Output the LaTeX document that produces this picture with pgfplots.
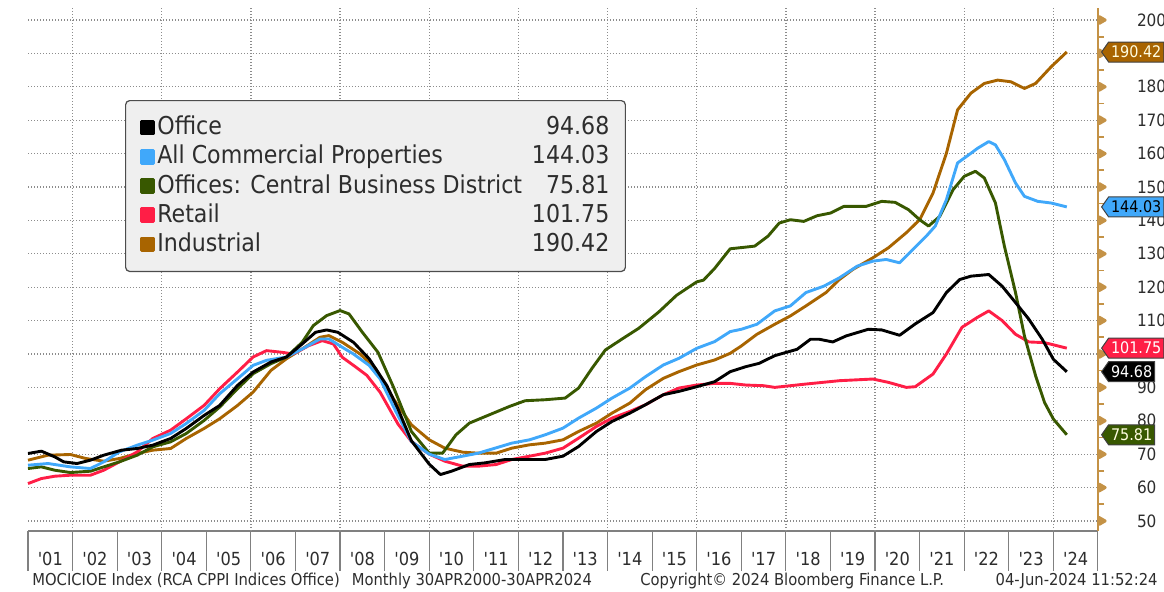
\documentclass[border=0pt]{standalone}
\usepackage{pgfplots}
\pgfplotsset{compat=1.18}
\usepackage{fontspec}
\setmainfont{DejaVu Sans Condensed}
\usetikzlibrary{shapes.symbols}
\definecolor{cOffice}{RGB}{0,0,0}
\definecolor{cAll}{RGB}{64,168,250}
\definecolor{cCBD}{RGB}{56,88,0}
\definecolor{cRetail}{RGB}{255,30,70}
\definecolor{cInd}{RGB}{168,100,0}
\definecolor{axbrown}{RGB}{196,146,70}
\definecolor{gridc}{RGB}{140,140,140}
\definecolor{txt}{RGB}{45,45,45}
\definecolor{legbg}{RGB}{239,239,239}
\newcommand{\yr}[1]{\textquotesingle#1}
\begin{document}
\begin{tikzpicture}
\useasboundingbox (0,0) rectangle (582pt,296pt);
\begin{axis}[
  at={(14pt,30.5pt)}, anchor=south west,
  scale only axis, width=535pt, height=261.5pt,
  xmin=2001, xmax=2025, ymin=47, ymax=203.6,
  axis x line=bottom, axis y line=right,
  axis line style={-},
  x axis line style={draw=gray, line width=0.8pt},
  y axis line style={draw=axbrown, line width=0.8pt},
  tick align=outside,
  major tick length=20pt,
  xtick={2001,2002,...,2025},
  xticklabels={\yr{01},\yr{02},\yr{03},\yr{04},\yr{05},\yr{06},\yr{07},\yr{08},\yr{09},\yr{10},\yr{11},\yr{12},\yr{13},\yr{14},\yr{15},\yr{16},\yr{17},\yr{18},\yr{19},\yr{20},\yr{21},\yr{22},\yr{23},\yr{24},{}},
  xtick style={draw=gray, line width=0.6pt},
  xticklabel style={xshift=11.15pt, yshift=13pt, font=\fontsize{9}{10}\selectfont, text=txt},
  extra x ticks={2002,2004,...,2024},
  extra x tick labels={},
  extra x tick style={xmajorgrids=true, major tick length=0pt},
  ytick={50,60,...,200},
  yticklabels={50,60,70,80,90,{},110,120,130,140,150,160,170,180,{},200},
  ytick style={draw=none},
  yticklabel style={font=\fontsize{8.5}{10}\selectfont, text=txt, anchor=west, xshift=-4pt},
  /pgf/number format/assume math mode=true,
  xmajorgrids=false, ymajorgrids=true,
  major grid style={gridc, line width=0.6pt, dash pattern=on 0.6pt off 0.9pt},
  clip=false,
  legend style={at={(rel axis cs:0.0907,0.824)}, anchor=north west,
    fill=legbg, draw=gray!60!black, line width=0.6pt, rounded corners=2pt,
    font=\fontsize{12.3}{14}\selectfont, text=txt,
    inner xsep=7pt, inner ysep=6.5pt, row sep=0.6pt,
    nodes={inner sep=1pt, text height=9.5pt, text depth=2.5pt}},
  legend cell align=left,
  every axis plot/.append style={line width=1.45pt, line join=round},
]
\addlegendimage{legend image code/.code={\fill[cOffice, sharp corners] (0pt,-3.2pt) rectangle (6.4pt,3.2pt);}}
\addlegendentry{\makebox[226pt][l]{Office\hfill 94.68}}
\addlegendimage{legend image code/.code={\fill[cAll, sharp corners] (0pt,-3.2pt) rectangle (6.4pt,3.2pt);}}
\addlegendentry{\makebox[226pt][l]{All Commercial Properties\hfill 144.03}}
\addlegendimage{legend image code/.code={\fill[cCBD, sharp corners] (0pt,-3.2pt) rectangle (6.4pt,3.2pt);}}
\addlegendentry{\makebox[226pt][l]{Offices: Central Business District\hfill 75.81}}
\addlegendimage{legend image code/.code={\fill[cRetail, sharp corners] (0pt,-3.2pt) rectangle (6.4pt,3.2pt);}}
\addlegendentry{\makebox[226pt][l]{Retail\hfill 101.75}}
\addlegendimage{legend image code/.code={\fill[cInd, sharp corners] (0pt,-3.2pt) rectangle (6.4pt,3.2pt);}}
\addlegendentry{\makebox[226pt][l]{Industrial\hfill 190.42}}

% right axis tick marks
\addplot[forget plot, only marks, mark=-, mark size=1.5pt, axbrown, line width=0.8pt, mark options={xshift=1.5pt}]
 coordinates {(2025,55)(2025,65)(2025,75)(2025,85)(2025,95)(2025,105)(2025,115)(2025,125)(2025,135)(2025,145)(2025,155)(2025,165)(2025,175)(2025,185)(2025,195)};
\addplot[forget plot, only marks, mark=triangle*, mark size=2pt, axbrown, mark options={xshift=1.6pt, rotate=-90}]
 coordinates {(2025,50)(2025,60)(2025,70)(2025,80)(2025,90)(2025,100)(2025,110)(2025,120)(2025,130)(2025,140)(2025,150)(2025,160)(2025,170)(2025,180)(2025,190)(2025,200)};

% Industrial
\addplot[forget plot, cInd] coordinates {
(2001.0,68.2)(2001.45,69.7)(2001.95,69.9)(2002.3,68.7)(2002.7,67.9)(2003.05,68.7)(2003.45,70.2)(2003.8,71.2)(2004.2,71.7)(2004.55,74.7)(2004.95,77.7)(2005.3,80.6)(2005.7,84.6)(2006.05,88.6)(2006.45,95.1)(2006.8,98.6)(2007.15,101.5)(2007.55,105)(2007.75,105.5)(2008.05,103.5)(2008.45,100)(2008.8,95.6)(2009.2,86.5)(2009.6,78.8)(2010.0,74.3)(2010.35,71.8)(2010.75,70.6)(2011.1,70.3)(2011.5,70.3)(2011.85,71.8)(2012.25,72.8)(2012.6,73.3)(2013.0,74.3)(2013.35,76.8)(2013.75,79.3)(2014.1,82.3)(2014.5,85.3)(2014.85,89.3)(2015.25,92.7)(2015.6,94.7)(2016.0,96.7)(2016.4,98.2)(2016.75,100.2)(2017.0,102.4)(2017.35,105.9)(2017.75,108.9)(2018.1,111.4)(2018.45,114.4)(2018.9,118.4)(2019.2,122.3)(2019.5,125.3)(2019.95,128.8)(2020.3,131.8)(2020.7,136.3)(2021.0,140.2)(2021.3,148.2)(2021.6,160.1)(2021.85,173.1)(2022.15,178.1)(2022.45,181)(2022.75,182)(2023.05,181.5)(2023.35,179.5)(2023.6,181)(2023.95,186)(2024.3,190.42)};
% Retail
\addplot[forget plot, cRetail] coordinates {
(2001.0,61.2)(2001.3,62.7)(2001.6,63.4)(2001.95,63.7)(2002.4,63.7)(2002.7,65.2)(2003.05,67.7)(2003.45,70.7)(2003.8,74.7)(2004.2,77.2)(2004.55,80.6)(2004.95,84.6)(2005.3,89.6)(2005.7,94.6)(2006.05,99.1)(2006.35,101)(2006.7,100.5)(2006.95,100)(2007.3,102.5)(2007.6,104)(2007.85,103)(2008.05,99)(2008.3,96.6)(2008.6,93.6)(2008.9,88.5)(2009.3,79)(2009.6,73.8)(2010.0,70)(2010.35,67.9)(2010.75,66.4)(2011.1,66.4)(2011.5,66.9)(2011.85,68.4)(2012.25,69.4)(2012.6,70.3)(2013.0,71.8)(2013.35,74.8)(2013.75,78.3)(2014.1,80.8)(2014.5,82.8)(2014.85,84.8)(2015.25,87.8)(2015.6,89.8)(2016.0,90.7)(2016.4,91.2)(2016.75,91.2)(2017.1,90.7)(2017.5,90.5)(2017.75,90)(2018.45,91)(2019.2,92)(2019.95,92.5)(2020.3,91.5)(2020.7,90)(2020.9,90.2)(2021.3,94)(2021.6,100)(2021.95,108)(2022.3,111)(2022.55,112.9)(2022.85,110)(2023.15,105.9)(2023.45,103.6)(2023.8,103.4)(2024.3,101.75)};
% CBD
\addplot[forget plot, cCBD] coordinates {
(2001.0,65.7)(2001.3,66.2)(2001.6,65.2)(2001.95,64.5)(2002.4,64.9)(2002.7,66.2)(2003.05,67.7)(2003.45,69.7)(2003.8,72.2)(2004.2,73.7)(2004.55,76.2)(2004.95,80.1)(2005.3,84.1)(2005.7,89.6)(2006.05,94.1)(2006.45,97.1)(2006.8,99.1)(2007.15,103.5)(2007.4,108.5)(2007.7,111.5)(2008.0,113)(2008.2,112)(2008.5,106.5)(2008.85,100.5)(2009.2,90)(2009.6,76.8)(2010.0,70.3)(2010.3,70.3)(2010.6,75.8)(2010.9,79.3)(2011.35,81.8)(2011.8,84.3)(2012.15,86)(2012.6,86.3)(2013.05,86.8)(2013.35,89.8)(2013.65,95.7)(2013.95,101.2)(2014.35,104.7)(2014.7,107.7)(2015.15,112.6)(2015.55,117.6)(2016.0,121.6)(2016.15,122.1)(2016.4,125.6)(2016.75,131.5)(2017.1,132)(2017.3,132.3)(2017.6,135.3)(2017.85,139.2)(2018.1,140.2)(2018.4,139.7)(2018.7,141.4)(2019.0,142.2)(2019.3,144.2)(2019.8,144.2)(2020.15,145.7)(2020.45,145.4)(2020.75,143.2)(2021.0,140.2)(2021.2,138.3)(2021.45,141.2)(2021.75,149.2)(2022.0,153.2)(2022.25,154.7)(2022.45,152.7)(2022.7,145.2)(2022.9,132.3)(2023.15,118.4)(2023.35,105.4)(2023.6,93.5)(2023.8,85.5)(2024.0,80.5)(2024.3,75.81)};
% All Commercial
\addplot[forget plot, cAll] coordinates {
(2001.0,66.7)(2001.45,67.2)(2001.95,66.2)(2002.4,65.7)(2002.7,67.7)(2003.05,70.7)(2003.45,72.7)(2003.8,74.2)(2004.2,76.2)(2004.55,79.2)(2004.95,83.1)(2005.3,88.1)(2005.7,92.6)(2006.05,96.6)(2006.35,98.1)(2006.8,99.1)(2007.15,101.5)(2007.55,104.5)(2007.75,104.5)(2008.05,102)(2008.3,100)(2008.65,96.6)(2008.9,92.5)(2009.25,82.8)(2009.6,73.8)(2010.0,70)(2010.35,68.4)(2010.75,69.4)(2011.1,70.3)(2011.85,73.3)(2012.25,74.3)(2012.6,75.8)(2013.0,77.8)(2013.35,80.8)(2013.75,83.8)(2014.1,86.8)(2014.5,89.8)(2014.85,93.2)(2015.25,96.7)(2015.6,98.7)(2016.0,101.7)(2016.4,103.7)(2016.75,106.7)(2017.0,107.4)(2017.35,108.9)(2017.75,112.9)(2018.1,114.4)(2018.45,118.4)(2018.85,120.3)(2019.2,122.8)(2019.6,126.3)(2019.95,127.8)(2020.25,128.3)(2020.55,127.3)(2020.85,131.3)(2021.15,135.3)(2021.35,138.3)(2021.6,146.2)(2021.85,157.2)(2022.15,160.1)(2022.3,161.6)(2022.55,163.6)(2022.7,162.6)(2022.9,158.2)(2023.15,151.2)(2023.35,147.2)(2023.65,145.7)(2023.95,145.2)(2024.3,144.03)};
% Office
\addplot[forget plot, cOffice] coordinates {
(2001.0,70.2)(2001.3,70.9)(2001.6,69.2)(2001.8,67.7)(2002.1,67.2)(2002.4,68.2)(2002.7,69.7)(2003.1,71.2)(2003.45,71.7)(2003.8,72.7)(2004.2,74.7)(2004.55,77.7)(2004.95,81.6)(2005.3,84.6)(2005.7,90.6)(2006.05,94.6)(2006.45,97.6)(2006.8,99.1)(2007.15,103)(2007.45,106.5)(2007.7,107.2)(2007.95,106.5)(2008.3,103.5)(2008.65,98.6)(2009.05,90.5)(2009.3,83.5)(2009.6,74)(2010.0,67)(2010.25,63.9)(2010.5,64.9)(2010.9,66.9)(2011.25,67.4)(2011.7,68.4)(2012.1,68.4)(2012.6,68.4)(2013.0,69.4)(2013.35,72.3)(2013.75,76.8)(2014.1,79.8)(2014.5,82.3)(2014.85,84.8)(2015.25,87.8)(2015.6,88.8)(2016.0,90.2)(2016.4,91.7)(2016.75,94.7)(2017.1,96.2)(2017.4,97.2)(2017.75,99.5)(2018.25,101.4)(2018.55,104.4)(2018.75,104.4)(2019.05,103.6)(2019.35,105.4)(2019.85,107.4)(2020.15,107.2)(2020.55,105.6)(2020.9,109)(2021.3,112.4)(2021.6,118.4)(2021.9,122.3)(2022.15,123.3)(2022.55,123.8)(2022.85,120.3)(2023.15,115.4)(2023.45,110.4)(2023.75,104.4)(2024.0,98.4)(2024.3,94.68)};

\coordinate (tInd) at (axis cs:2025,190.42);
\coordinate (tAll) at (axis cs:2025,144.03);
\coordinate (tRet) at (axis cs:2025,101.75);
\coordinate (tOff) at (axis cs:2025,94.68);
\coordinate (tCBD) at (axis cs:2025,75.81);
\end{axis}
\tikzset{tag/.style={signal, signal to=west, signal pointer angle=110, draw=black!75, line width=0.5pt,
  font=\fontsize{8}{10}\selectfont, inner xsep=1.2pt, inner ysep=1.2pt, minimum height=10pt, anchor=west}}
\node[tag, fill=cInd, text=white!88!yellow] at ([xshift=1.5pt]tInd) {190.42};
\node[tag, fill=cAll, text=black] at ([xshift=1.5pt]tAll) {144.03};
\node[tag, fill=cRetail, text=white] at ([xshift=1.5pt]tRet) {101.75};
\node[tag, fill=black, text=white] at ([xshift=1.5pt]tOff) {94.68};
\node[tag, fill=cCBD, text=white!88!yellow] at ([xshift=1.5pt]tCBD) {75.81};

\node[anchor=base west, font=\fontsize{8.2}{9}\selectfont, text=txt, inner sep=0pt] at (16pt,3pt) {MOCICIOE Index (RCA CPPI Indices Office)\hspace{6pt}Monthly 30APR2000-30APR2024};
\node[anchor=base west, font=\fontsize{8.2}{9}\selectfont, text=txt, inner sep=0pt] at (320pt,3pt) {Copyright© 2024 Bloomberg Finance L.P.};
\node[anchor=base east, font=\fontsize{8.2}{9}\selectfont, text=txt, inner sep=0pt] at (579pt,3pt) {04-Jun-2024 11:52:24};
\end{tikzpicture}
\end{document}
